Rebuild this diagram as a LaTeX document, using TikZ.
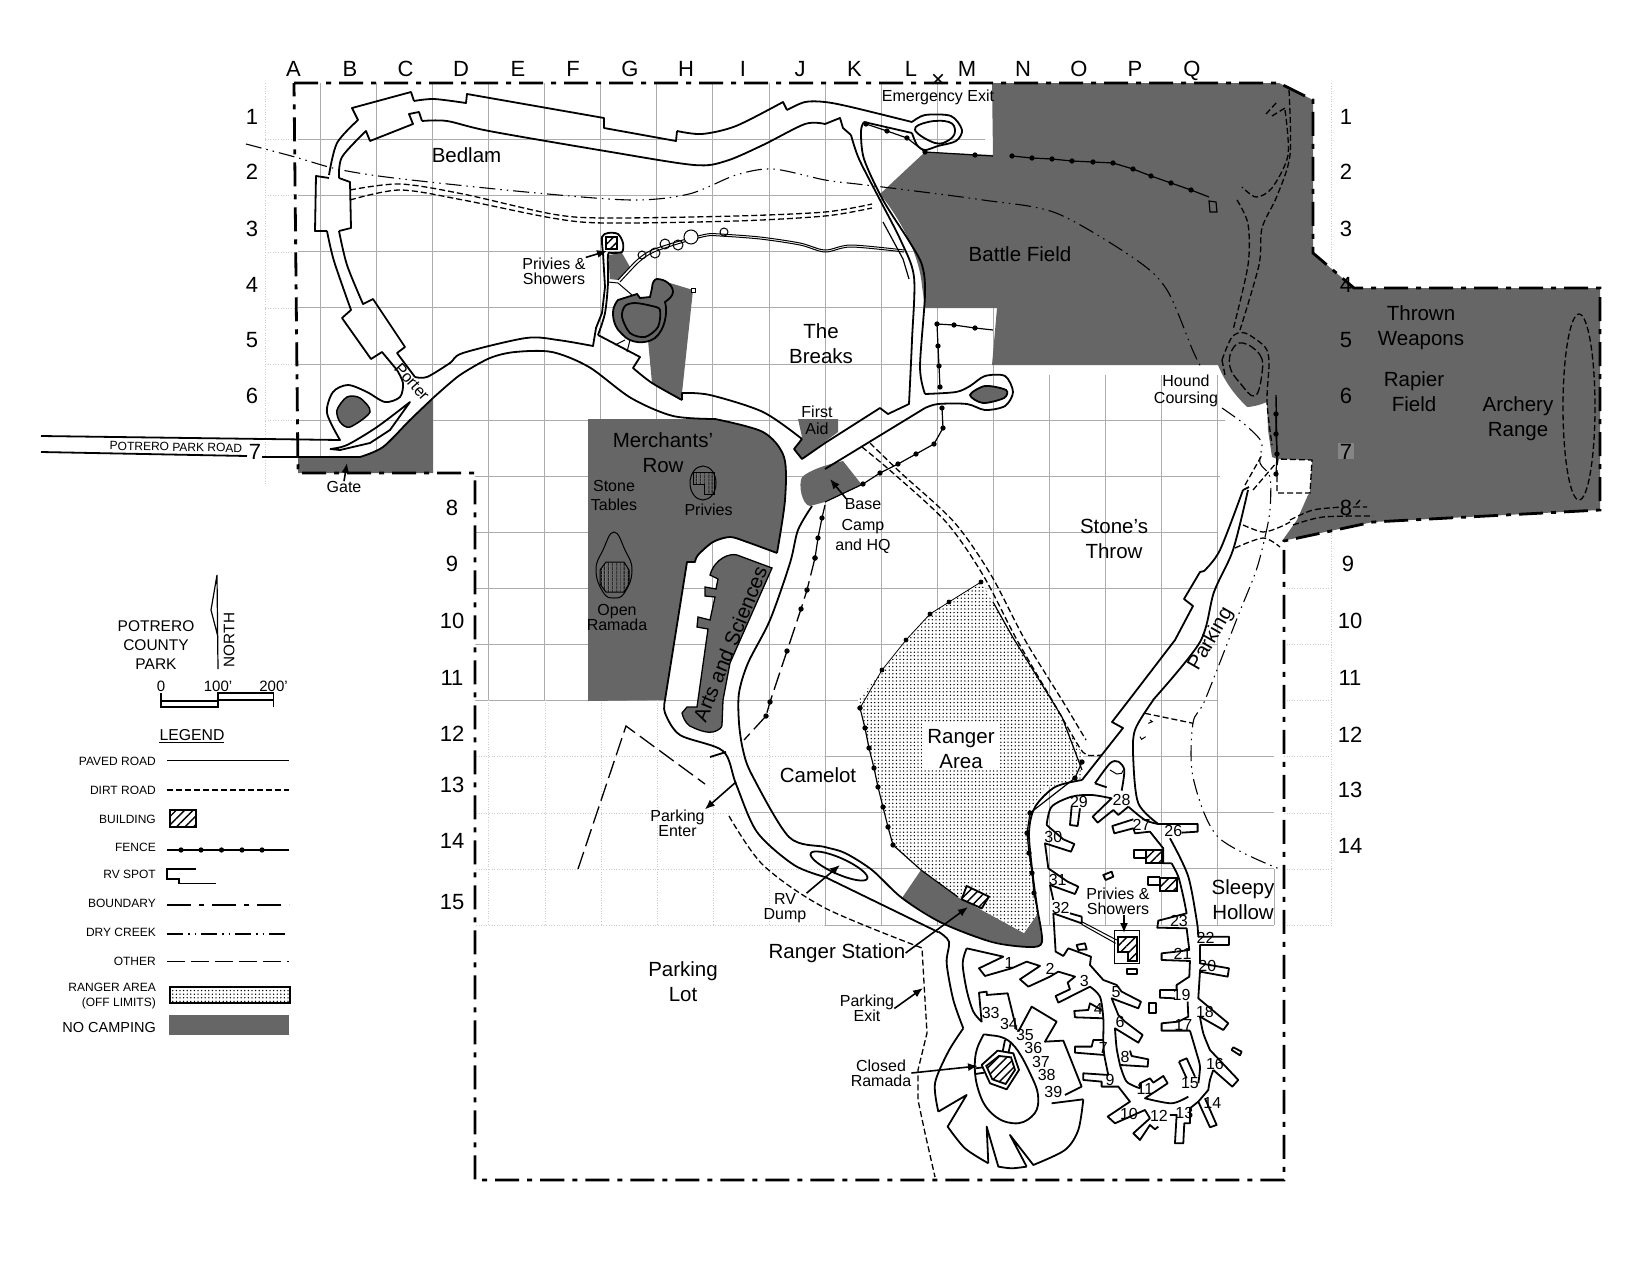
\documentclass[tikz,border=0pt]{standalone}
\usepackage{fontspec}
\setmainfont{Liberation Sans}
\usetikzlibrary{patterns.meta,arrows.meta}
\definecolor{nocamp}{gray}{0.4}
\tikzset{
  paved/.style={line width=1.8pt,line join=round},
  thinroad/.style={line width=1pt},
  dirt/.style={line width=1.3pt,dash pattern=on 6pt off 3pt},
  creek/.style={line width=1.1pt,dash pattern=on 16pt off 5pt on 1.5pt off 5pt on 1.5pt off 5pt},
  other/.style={line width=1.3pt,dash pattern=on 18pt off 6pt},
  border/.style={line width=2.8pt,dash pattern=on 24pt off 8pt on 5pt off 8pt},
  fence/.style={line width=1.2pt,mark=*,mark size=2pt},
  gridline/.style={gray!65,line width=.9pt},
  gridfaint/.style={gray!40,line width=.6pt,dotted},
  nogo/.style={fill=nocamp},
  bldg/.style={draw,line width=1.8pt,preaction={fill=white},pattern={Lines[angle=45,distance=6pt,line width=1.4pt]}},
  bldgv/.style={draw,line width=1pt,pattern={Lines[angle=90,distance=4pt,line width=1pt]}},
  stipple/.style={pattern={Dots[distance=3.6pt,radius=.75pt]}},
  lbl/.style={font=\fontsize{20.5}{25}\selectfont,inner sep=0pt,align=center},
  sml/.style={font=\fontsize{16}{15}\selectfont,inner sep=0pt,align=center},
  tiny/.style={font=\fontsize{12}{14.5}\selectfont,inner sep=0pt,align=right,anchor=east},
  hdr/.style={font=\fontsize{22}{24}\selectfont,inner sep=0pt,text height=16pt,text depth=0pt},
  nr/.style={font=\fontsize{16}{16}\selectfont,inner sep=0pt},
  arr/.style={line width=1.6pt,-{Latex[length=10pt,width=8pt]}},
}
\begin{document}
\begin{tikzpicture}[x=1pt,y=-1pt]
  \useasboundingbox (0,0) rectangle (1650,1275);
  % grid
  \draw[gridline] (320.6,83) -- (320.6,473);
  \draw[gridline] (376.6,83) -- (376.6,473);
  \draw[gridline] (432.7,83) -- (432.7,473);
  \draw[gridline] (488.7,83) -- (488.7,700);
  \draw[gridline] (544.8,83) -- (544.8,700);
  \draw[gridline] (600.8,83) -- (600.8,700);
  \draw[gridline] (656.9,83) -- (656.9,700);
  \draw[gridline] (712.9,83) -- (712.9,700);
  \draw[gridline] (769,83) -- (769,700);
  \draw[gridline] (825,83) -- (825,925);
  \draw[gridline] (881,83) -- (881,925);
  \draw[gridline] (937,83) -- (937,925);
  \draw[gridline] (993,83) -- (993,925);
  \draw[gridline] (1049,375) -- (1049,925);
  \draw[gridline] (1105,375) -- (1105,925);
  \draw[gridline] (1161,375) -- (1161,925);
  \draw[gridline] (1217,375) -- (1217,925);
  \draw[gridline] (1274,869) -- (1274,925);
  \draw[gridline] (298,139.6) -- (985,139.6);
  \draw[gridline] (298,195.7) -- (1000,195.7);
  \draw[gridline] (298,251.8) -- (1000,251.8);
  \draw[gridline] (298,307.9) -- (1000,307.9);
  \draw[gridline] (298,364) -- (1000,364);
  \draw[gridline] (298,420.1) -- (1225,420.1);
  \draw[gridline] (475,476.2) -- (1220,476.2);
  \draw[gridline] (475,532.3) -- (1217,532.3);
  \draw[gridline] (475,588.4) -- (1217,588.4);
  \draw[gridline] (475,644.5) -- (1217,644.5);
  \draw[gridline] (475,700.6) -- (1217,700.6);
  \draw[gridline] (825,756.7) -- (1274,756.7);
  \draw[gridline] (750,812.8) -- (1274,812.8);
  \draw[gridline] (825,868.9) -- (1274,868.9);
  \draw[gridline] (825,925) -- (1274,925);
  %
  \draw[gridfaint] (488.7,700) -- (488.7,925);
  \draw[gridfaint] (544.8,700) -- (544.8,925);
  \draw[gridfaint] (600.8,700) -- (600.8,925);
  \draw[gridfaint] (656.9,700) -- (656.9,925);
  \draw[gridfaint] (712.9,700) -- (712.9,925);
  \draw[gridfaint] (769,700) -- (769,925);
  \draw[gridfaint] (265,83) -- (265,485);
  \draw[gridfaint] (1331,83) -- (1331,925);
  \draw[gridfaint] (476,756.7) -- (825,756.7);
  \draw[gridfaint] (476,812.8) -- (750,812.8);
  \draw[gridfaint] (476,868.9) -- (825,868.9);
  \draw[gridfaint] (476,925) -- (825,925);
  \draw[gridfaint] (265,139.6) -- (294,139.6);
  \draw[gridfaint] (265,195.7) -- (294,195.7);
  \draw[gridfaint] (265,251.8) -- (294,251.8);
  \draw[gridfaint] (265,307.9) -- (294,307.9);
  \draw[gridfaint] (265,364) -- (294,364);
  \draw[gridfaint] (265,420.1) -- (294,420.1);
  \draw[gridfaint] (1284,756.7) -- (1331,756.7);
  \draw[gridfaint] (1284,812.8) -- (1331,812.8);
  \draw[gridfaint] (1284,868.9) -- (1331,868.9);
  \draw[gridfaint] (1284,925) -- (1331,925);
  \draw[gridfaint] (1284,588.4) -- (1331,588.4);
  \draw[gridfaint] (1284,644.5) -- (1331,644.5);
  \draw[gridfaint] (1284,700.6) -- (1331,700.6);
  % no camping areas
  \fill[nogo] plot[smooth] coordinates {(360,457) (383,447) (410,420) (433,398)} -- (433,473) -- (298,473) -- (298,457) -- cycle;
  \fill[nogo] plot[smooth] coordinates {(715,419) (763,432) (784,457) (785,500) (777,553)} -- (747,542) -- (730,537) -- (713,542) -- (698,555) -- (695,562) -- (687,562) -- (665,700) -- (588,701) -- (588,419) -- cycle;
  \fill[nogo] (798,419) -- (838,419) -- (838,432) -- (802,459) -- (794,449) -- (802,437) -- cycle;
  \fill[nogo] (843,461) -- (862,485) -- (825,502) -- (810,506) .. controls (802,505) and (798,485) .. (802,477) .. controls (810,470) and (825,465) .. (843,461) -- cycle;
  \fill[nogo] (992,83) -- (1279,83) -- (1313,100) -- (1313,253) -- (1354,288) -- (1600,288) -- (1600,510) -- (1373,522) -- (1282,541) -- (1297,520) -- (1308,495) -- (1310,493) -- (1312,460) -- (1278,459) -- (1272,457) -- (1268,430) -- (1267,402) .. controls (1260,405) and (1252,407) .. (1247,407) .. controls (1238,398) and (1226,385) .. (1218,365) -- (992,365) -- (997,308) -- (925,308) -- (922,286) .. controls (920,260) and (905,225) .. (880,194) -- (925,152) -- (993,155) -- cycle;
  \fill[nogo] (608,255) -- (622,253) -- (630,267) -- (618,280) -- (610,279) -- cycle;
  \fill[nogo] (670,283) -- (693,290) -- (682,393) -- (680,400) -- (652,383) -- (648,340) -- cycle;
  \fill[nogo] (921,870) -- (902,898) -- (942,923) .. controls (975,938) and (1005,947) .. (1038,947) -- (1042,942) -- (1038,913) -- (1024,933) -- (958,897) -- cycle;
  % ranger area
  \fill[white] (858,700) -- (893,845) -- (921,870) -- (958,897) -- (1024,933) -- (1038,913) -- (1028,833) -- (1032,807) -- (1045,788) -- (1082,778) -- (1083,755) -- (1062,717) -- (981,582) -- (930,614) -- cycle;
  \path[stipple] (858,700) -- (893,845) -- (921,870) -- (958,897) -- (1024,933) -- (1038,913) -- (1028,833) -- (1032,807) -- (1045,788) -- (1082,778) -- (1083,755) -- (1062,717) -- (981,582) -- (930,614) -- cycle;
  \fill[white] (922,722) rectangle (998,768);
  % boundary
  \draw[border] (294,83) -- (1279,83) -- (1313,100) -- (1313,253) -- (1354,288) -- (1600,288) -- (1600,510) -- (1373,522) -- (1284,541) -- (1284,1180) -- (475,1180) -- (475,473) -- (298,473) -- cycle;
  % ranger area fences
  \draw[fence] plot coordinates {(860,708) (865,728) (869,748) (874,768) (878,787) (883,807) (888,827) (893,845)};
  \draw[line width=1.2pt] (893,845) -- (921,870) -- (958,897);
  \draw[fence,line width=.8pt] plot coordinates {(981,582) (949,602) (930,614) (906,640) (882,670) (860,708)};
  \draw[line width=1.2pt] (993,602) -- (1012,636) -- (1062,717) -- (1082,770);
  \draw[fence] plot coordinates {(1082,762) (1075,778) (1030,813) (1027,833) (1029,853) (1032,873) (1034,893)};
  \draw[line width=1.2pt] (1034,893) -- (1038,913);
  % roads of the north loop
  \draw[paved] plot[smooth] coordinates {(329,175) (337,143) (358,120)} -- (352,108) -- (411,92) -- (414,101);
  \draw[paved] plot[smooth] coordinates {(414,101) (434,99) (466,103)} -- (467,94) -- (604,118) -- (604,128) -- (676,141) -- (677,131);
  \draw[paved] plot[smooth] coordinates {(677,131) (702,134) (736,126) (783,102)} -- (787,110);
  \draw[paved] plot[smooth] coordinates {(787,110) (805,102) (825,102) (851,107) (912,122)};
  \draw[paved] plot[smooth] coordinates {(912,122) (925,115) (951,116) (962,130) (956,141) (938,146) (925,150) (917,145) (912,133)};
  \draw[paved] plot[smooth cycle,tension=.7] coordinates {(915,130) (928,122) (949,122) (955,131) (949,140) (935,143)};
  \draw[paved] (912,133) -- (864,122);
  \draw[paved] plot[smooth] coordinates {(864,122) (861,131) (864,159) (883,200) (909,241) (922,265) (925,294) (920,367) (925,394)};
  \draw[paved] plot[smooth] coordinates {(925,394) (956,392) (970,386) (985,376) (1005,376) (1013,392) (1005,406) (985,410) (967,404) (938,404) (925,408)};
  \fill[nogo,draw=black,line width=1.8pt] plot[smooth cycle] coordinates {(970,395) (985,386) (1006,390) (1004,398) (983,403)};
  \draw[paved] (925,408) -- (825,469);
  \draw[paved] (825,124) -- (840,118) -- (843,128) -- (851,135);
  \draw[paved] plot[smooth] coordinates {(851,135) (859,159) (880,200) (901,241) (914,277) (912,340) (909,404)} -- (888,414) -- (880,408) -- (825,443) -- (802,459) -- (794,449) -- (802,439);
  \draw[paved] plot[smooth] coordinates {(802,439) (763,412) (710,395) (682,393)} -- (682,400);
  \draw[paved] plot[smooth] coordinates {(682,400) (652,383) (633,368)} -- (640,357) -- (598,335);
  \draw[paved] plot[smooth] coordinates {(339,178) (342,157) (366,131)} -- (370,141) -- (413,124) -- (409,114) -- (419,112) -- (422,121);
  \draw[paved] plot[smooth] coordinates {(422,121) (447,121) (489,131) (605,151) (694,165) (726,161) (763,145) (805,124) (825,124)};
  \draw[paved] (329,178) -- (316,176) -- (315,231) -- (327,231);
  \draw[paved] (339,178) -- (350,182) -- (351,228) -- (339,231);
  \draw[paved] plot[smooth] coordinates {(327,231) (334,261) (351,310)} -- (342,318) -- (371,359) -- (382,352) -- (397,370);
  \draw[paved] plot[smooth] coordinates {(397,370) (403,383) (400,397) (385,402) (367,392) (348,385) (333,392) (327,413) (340,440)} -- (41,436);
  \draw[paved] plot[smooth] coordinates {(339,231) (347,265) (363,304)} -- (373,299) -- (405,347) -- (397,353) -- (415,377);
  \draw[paved] plot[smooth] coordinates {(415,377) (427,377) (450,363) (463,353) (526,338) (558,340) (593,346)} -- (596,328) -- (602,313) -- (605,287) -- (603,253);
  \draw[paved] (41,452) -- (247,456);
  \draw[paved] (262,457) -- (360,457);
  \draw[paved] plot[smooth] coordinates {(360,457) (383,447) (410,420) (433,398)};
  \draw[paved] plot[smooth] coordinates {(433,398) (450,383) (463,373) (490,358) (515,352) (552,352) (589,367) (631,398) (673,416) (715,419)};
  \draw[paved] plot[smooth] coordinates {(715,419) (763,432) (784,457) (785,500) (777,553)};
  \draw[paved] plot[smooth] coordinates {(777,553) (747,542) (730,537) (713,542) (698,555) (695,562)} -- (687,562) -- (665,700);
  \draw[paved] plot[smooth] coordinates {(665,700) (665,713) (680,735) (723,751) (736,784) (757,832) (794,865) (825,877)} -- (938,932);
  \draw[paved] plot[smooth] coordinates {(812,506) (798,530) (790,563) (770,620) (748,663) (739,693) (739,723) (743,750) (752,775) (789,837) (825,847) (845,853) (872,870) (902,898) (942,923) (992,942) (1030,947) (1042,942) (1038,913)};
  \draw[paved] plot[smooth] coordinates {(330,449) (347,445) (377,427) (410,402)} -- (390,430) -- (370,443) -- (340,450) -- (330,449);
  \draw[paved] (710,757) -- (726,752);
  % gate loop and the G pond
  \fill[nogo,draw=black,line width=1.5pt] plot[smooth cycle] coordinates {(337,410) (347,397) (360,398) (370,412) (350,427) (340,422)};
  \fill[nogo,draw=black,line width=1.8pt] (613,313) .. controls (613,305) and (618,300) .. (618,300) -- (637,294) -- (640,298) -- (650,297) -- (652,288) .. controls (652,282) and (655,279) .. (657,279) .. controls (665,279) and (673,285) .. (673,292) .. controls (673,296) and (668,300) .. (665,302) .. controls (668,312) and (665,330) .. (655,338) .. controls (645,345) and (630,343) .. (623,335) .. controls (617,330) and (613,323) .. (613,313) -- cycle;
  \draw[line width=1.8pt] plot[smooth cycle] coordinates {(622,317) (625,306) (635,303) (652,306) (660,310) (658,327) (645,337) (630,333)};
  \draw[paved] plot[smooth] coordinates {(603,253) (602,237) (608,233) (618,234) (623,243) (622,252) (612,253) (608,255) (608,283) (605,313) (598,335)};
  \draw[thinroad] (608,282) -- (618,283) -- (632,295);
  \draw[thinroad] (625,340) -- (615,345);
  \draw[thinroad] (630,340) -- (627,352);
  \draw[thinroad] plot[smooth] coordinates {(618,280) (637,260) (652,250) (683,240) (707,234) (720,234) (760,237) (800,243) (825,250) (851,245) (904,250)};
  \draw[thinroad] plot[smooth] coordinates {(620,282) (639,262) (654,252) (684,242) (707,236) (720,236) (760,239) (800,245) (825,252) (851,247) (904,252)};
  \draw[thinroad,fill=white] (691,237) circle (7);
  \draw[thinroad] (642,255) circle (4);
  \draw[thinroad] (655,253) circle (5);
  \draw[thinroad] (665,244) circle (5);
  \draw[thinroad] (678,245) circle (5);
  \draw[thinroad] (724,232) circle (4);
  \draw[thinroad,fill=white] (691,288) rectangle (695,292);
  \draw[bldg] (606,237) rectangle (617,249);
  % merchants row
  \draw[line width=1pt] (703,483) ellipse (13 and 17);
  \path[bldgv] (693,472) -- (714,472) -- (714,494) -- (704,494) -- (704,484) -- (693,484) -- cycle;
  \draw[line width=1pt] plot[smooth cycle,tension=.8] coordinates {(614,532) (625,550) (632,570) (625,592) (614,598) (603,592) (596,570) (603,550)};
  \path[bldgv] (606,562) -- (624,562) -- (629,570) -- (629,584) -- (624,592) -- (606,592) -- (600,584) -- (600,570) -- cycle;
  % arts and sciences
  \fill[nogo,draw=black,line width=1.3pt] (772,568) -- (737,555) .. controls (730,553) and (715,558) .. (710,575) -- (718,579) -- (716,589) -- (705,587) -- (705,596) -- (715,597) -- (710,620) -- (698,617) -- (697,627) -- (708,629) -- (697,707) -- (687,707) -- (682,713) .. controls (684,722) and (690,727) .. (692,727) .. controls (700,731) and (708,733) .. (713,732) .. controls (720,730) and (722,727) .. (722,725) -- (723,700) -- (730,663) -- cycle;
  % dirt roads
  \draw[dirt] plot[smooth] coordinates {(350,190) (400,184) (463,194) (552,214) (605,218) (736,216) (825,212) (872,204)};
  \draw[dirt] plot[smooth] coordinates {(350,200) (400,190) (463,200) (552,218) (605,223) (736,221) (825,216) (872,208)};
  \draw[dirt] plot[smooth] coordinates {(862,447) (893,473) (946,522) (983,575) (1017,640) (1052,700) (1078,745) (1087,755) (1102,755)};
  \draw[dirt] plot[smooth] coordinates {(870,443) (901,473) (954,522) (991,575) (1025,640) (1062,700) (1086,740)};
  \draw[dirt] plot[smooth] coordinates {(729,816) (763,865) (825,908) (922,948)} -- (924,983) -- (927,1033) -- (918,1070) -- (918,1100) -- (925,1133) -- (935,1177);
  % dirt roads on the east side
  \draw[dirt] plot[smooth] coordinates {(1289,90) (1290,155) (1277,196) (1262,228) (1259,265) (1240,330)};
  \draw[dirt] plot[smooth] coordinates {(1285,110) (1288,155) (1272,188) (1256,197) (1242,187)};
  \draw[dirt] plot[smooth] coordinates {(1237,200) (1248,224) (1248,265) (1233,330)};
  \draw[dirt] (1266,114) -- (1277,102);
  \draw[dirt] (1272,116) -- (1285,108);
  \draw[dirt] plot[smooth] coordinates {(1222,360) (1232,337) (1245,333) (1265,347) (1269,363) (1267,402) (1272,445)};
  \draw[dirt] (1222,360) -- (1225,375);
  \draw[dirt,dash pattern=on 8pt off 3pt] plot[smooth cycle,tension=.7] coordinates {(1243,343) (1260,355) (1262,373) (1255,396) (1240,383) (1230,367) (1232,350)};
  \draw[dirt] (1277,465) -- (1278,459) -- (1312,460) -- (1310,493) -- (1277,493) -- (1277,470);
  \draw[dirt] plot[smooth] coordinates {(1290,520) (1313,510) (1343,507)};
  \draw[dirt] plot[smooth] coordinates {(1293,525) (1323,517) (1373,516)};
  \draw[dirt] plot[smooth] coordinates {(1243,525) (1263,532) (1280,527) (1290,522)};
  \draw[dirt] plot[smooth] coordinates {(1235,548) (1263,538) (1280,547)};
  \draw[dirt] (1245,485) -- (1262,455);
  \draw[dirt] (1253,490) -- (1277,462);
  \draw[dirt] (1360,500) -- (1354,507) -- (1367,507);
  \draw[dirt] (1579,407) ellipse (16 and 93);
  % other lines and creek
  \draw[other] (578,869) -- (626,726) -- (705,784);
  \draw[creek] plot[smooth] coordinates {(246,144) (295,157) (337,169) (394,178) (526,192) (631,200) (689,194) (736,175) (773,169) (825,180) (857,184) (899,189) (983,200) (1056,213) (1135,259) (1167,290) (1193,351) (1201,367)};
  \draw[creek] plot[smooth] coordinates {(1222,408) (1243,423) (1258,437) (1262,445) (1260,463) (1270,477) (1270,510) (1265,537) (1256,571) (1238,616) (1205,700) (1193,723) (1193,777) (1218,837) (1282,870)};
  % east fence
  \draw[fence] plot coordinates {(866,124) (887,131) (907,138) (925,152) (975,155)};
  \draw[line width=1.2pt] (975,155) -- (993,156);
  \draw[fence] plot coordinates {(1012,156) (1032,158) (1052,159) (1072,161) (1093,162) (1113,163) (1133,169) (1151,176) (1171,183) (1191,190)};
  \draw[line width=1.2pt] (1191,190) -- (1209,197);
  \draw[line width=1.2pt] (1209,201) -- (1216,202) -- (1217,212) -- (1210,212) -- cycle;
  \draw[line width=1.2pt] (883,222) -- (903,259) -- (909,279);
  \draw[fence] plot coordinates {(975,328) (954,325) (937,324) (938,346) (939,366) (940,387)};
  \draw[line width=1.2pt] (975,328) -- (993,330);
  \draw[fence] plot coordinates {(942,408) (943,428) (934,444) (916,454) (898,464) (880,473) (863,484)};
  \draw[line width=1.2pt] (863,484) -- (825,502);
  \draw[line width=1.4pt] (1276,395) -- (1277,459);
  \draw[fence] plot coordinates {(1276,414) (1276,434) (1277,454) (1276,474)};
  \draw[line width=1.2pt] (825,505) -- (822,518);
  \draw[fence] plot coordinates {(822,518) (818,538) (815,558)};
  \draw[other,mark=*,mark size=2pt] plot coordinates {(815,558) (807,590) (801,609) (787,651) (770,702) (766,716)};
  \draw[other] (766,716) -- (744,740);
  % parking road
  \draw[paved] plot[smooth] coordinates {(1243,490) (1220,550) (1204,571)} -- (1200,572) -- (1184,599) -- (1193,606) -- (1175,640) -- (1129,700) -- (1112,722) -- (1123,728) -- (1082,780);
  \draw[paved] (1243,490) -- (1249,487);
  \draw[paved] plot[smooth] coordinates {(1248,490) (1233,550) (1214,592) (1200,642) (1153,700)};
  \draw[paved] plot[smooth] coordinates {(1082,780) (1055,787) (1035,807) (1029,833) (1033,877) (1038,913)};
  % campground
  \begin{scope}[shift={(825,700)},x=.3333pt,y=-.3333pt]
    \draw[paved] plot[smooth] coordinates {(985,0) (930,90) (925,180) (940,310) (1000,372)} -- (1118,372) -- (1118,395) -- (1070,398);
    \draw[paved] plot[smooth] coordinates {(1035,415) (1090,530) (1118,680)} -- (1120,710) -- (1212,710) -- (1212,735) -- (1125,735) -- (1125,790) -- (1212,805) -- (1208,830) -- (1125,815) -- (1120,895) -- (1210,970) -- (1195,990) -- (1125,950);
    \draw[paved] plot[smooth] coordinates {(1125,950) (1135,1000) (1155,1050)} -- (1240,1140) -- (1222,1160) -- (1165,1110);
    \draw[paved] plot[smooth] coordinates {(1165,1110) (1155,1140) (1150,1170)} -- (1120,1205) -- (1155,1282) -- (1175,1275) -- (1140,1195);
    \draw[paved] (1120,1205) -- (1095,1225) -- (1095,1270) -- (1078,1270) -- (1075,1330) -- (1050,1330) -- (1055,1245) -- (1035,1245);
    \draw[paved] (1000,1280) -- (990,1288) -- (975,1275) -- (945,1320) -- (925,1300) -- (975,1255) -- (960,1230) -- (870,1270) -- (848,1250) -- (915,1205) -- (880,1160) -- (830,1160) -- (830,1145) -- (775,1140) -- (775,1120) -- (850,1125);
    \draw[paved] plot[smooth] coordinates {(850,1125) (838,1065) (835,1020) (835,955) (825,890) (795,860)} -- (700,908) -- (692,888) -- (735,868) -- (728,848) -- (750,830) -- (700,815) -- (675,830) -- (610,860) -- (585,838) -- (645,798) -- (605,785) -- (560,805) -- (480,828) -- (462,805) -- (535,770) -- (425,745);
    \draw[paved] (835,1020) -- (805,1020) -- (800,1040) -- (750,1040) -- (750,1058) -- (838,1065);
    \draw[paved] (835,955) -- (750,952) -- (748,933) -- (790,930) -- (795,910) -- (830,930);
    \draw[paved] plot[smooth] coordinates {(425,745) (413,790) (425,870) (445,935) (470,965)} -- (462,878) -- (485,875) -- (485,885) -- (548,880) -- (575,990);
    \draw[paved] (580,995) -- (620,920) -- (695,965) -- (660,1025) -- (715,1022) -- (770,1160) -- (720,1185);
    \draw[paved] (680,1210) -- (775,1198);
    \draw[paved] plot[smooth] coordinates {(775,1198) (760,1290) (720,1350) (625,1395)} -- (555,1305) -- (605,1400);
    \draw[paved] plot[smooth] coordinates {(605,1400) (560,1405) (520,1400)} -- (485,1280) -- (490,1390);
    \draw[paved] plot[smooth] coordinates {(490,1390) (420,1345) (368,1280)} -- (425,1185) -- (340,1235);
    \draw[paved] plot[smooth] coordinates {(340,1235) (330,1150) (370,1055) (415,985)};
    \draw[paved] plot[smooth] coordinates {(415,985) (385,900) (365,790) (372,725) (340,695)};
    % ramada island
    \draw[paved] plot[smooth cycle,tension=.7] coordinates {(490,1005) (560,1030) (620,1130) (640,1200) (620,1250) (565,1270) (500,1240) (460,1170) (450,1080) (470,1015)};
    \draw[paved] (518,1052) -- (565,1060) -- (582,1110) -- (545,1168) -- (495,1150) -- (470,1095) -- cycle;
    \draw[bldg] (522,1068) -- (558,1072) -- (570,1110) -- (542,1152) -- (502,1138) -- (484,1098) -- cycle;
    \draw[paved] (540,1020) -- (533,1055);
    \draw[paved] (558,1025) -- (550,1060);
    \draw[paved] (452,1105) -- (475,1102);
    \draw[paved] (452,1122) -- (478,1118);
    % inner loop
    \draw[paved] plot[smooth] coordinates {(665,375) (680,320) (740,290) (800,285) (860,295)} -- (803,350) -- (818,368) -- (865,330) -- (880,345) -- (910,320);
    \draw[paved] (765,325) -- (758,378) -- (735,375) -- (740,320);
    \draw[paved] plot[smooth] coordinates {(910,320) (960,360) (1000,372)};
    \draw[paved] (925,358) -- (862,378) -- (868,400) -- (925,385) -- (930,400) -- (975,395) -- (1015,445) -- (1015,490) -- (1040,490);
    \draw[paved] plot[smooth] coordinates {(1040,490) (1060,530) (1075,590) (1085,640)} -- (1000,662) -- (997,683) -- (1085,685) -- (1093,750) -- (1055,755);
    \draw[paved] (1055,755) -- (1010,760) -- (1010,780) -- (1095,783) -- (1093,830) -- (1055,855) -- (1055,870) -- (1005,870) -- (1005,893) -- (1050,895);
    \draw[paved] (1088,905) -- (1090,950) -- (1060,965) -- (1010,970) -- (1010,992) -- (1095,992);
    \draw[paved] plot[smooth] coordinates {(1095,992) (1115,1060) (1125,1100) (1120,1150)};
    \draw[paved] (1062,1085) -- (1085,1075) -- (1110,1130);
    \draw[paved] (1062,1085) -- (1085,1135);
    \draw[paved] plot[smooth] coordinates {(1090,1190) (1040,1210) (960,1195)} -- (1028,1150) -- (1015,1128) -- (985,1148) -- (975,1135) -- (945,1150) -- (945,1165);
    \draw[paved] plot[smooth] coordinates {(945,1165) (905,1145) (885,1095)} -- (968,1100) -- (970,1078) -- (920,1068) -- (915,1052);
    \draw[paved] plot[smooth] coordinates {(885,1095) (875,1045) (870,985)} -- (940,1028) -- (953,1005) -- (900,965) -- (880,945) -- (860,895) -- (940,925) -- (948,905) -- (890,875) -- (875,855) -- (835,840) -- (795,795) -- (798,770) -- (730,745) -- (715,768) -- (692,755) -- (685,640);
    \draw[paved] (685,640) -- (770,670) -- (770,650) -- (735,640);
    \draw[thinroad] (770,665) -- (875,720);
    \draw[thinroad] (770,673) -- (872,730);
    \draw[paved] (675,555) -- (750,582) -- (760,560) -- (728,545) -- (670,505) -- (660,430) -- (738,455) -- (748,432) -- (715,418);
    \draw[paved] (715,418) -- (665,375);
    \draw[paved] (675,555) -- (685,600);
    % north end of the camp
    \draw[paved] plot[smooth] coordinates {(810,250) (855,190) (880,185) (898,210) (890,272)};
    \draw[paved] (810,250) -- (845,262);
    \draw[thinroad] (855,210) -- (875,222) -- (890,220) -- (895,210);
    % small spots
    \draw[paved] (755,735) -- (780,730) -- (785,748) -- (760,750) -- cycle;
    \draw[paved] (907,808) rectangle (937,823);
    \draw[paved] (973,910) rectangle (992,938);
    \draw[paved] (835,525) -- (860,515) -- (865,530) -- (842,540) -- cycle;
    \draw[paved] (1220,1050) -- (1225,1042) -- (1250,1055) -- (1245,1066) -- cycle;
    % privies and station
    \draw[bldg] (963,450) rectangle (1012,490);
    \draw[paved] (963,450) -- (928,450) -- (928,475) -- (963,475);
    \draw[bldg] (1005,533) rectangle (1055,572);
    \draw[paved] (1005,532) -- (970,532) -- (970,555) -- (1005,555);
    \draw[thinroad] (870,692) rectangle (945,790);
    \draw[bldg] (880,712) -- (935,712) -- (935,782) -- (910,782) -- (910,755) -- (880,755) -- cycle;
    \draw[bldg] (425,558) -- (492,590) -- (470,625) -- (410,598) -- cycle;
    % dashes and creek bits
    \draw[dirt] (960,40) -- (1105,70);
    \draw[thinroad] (975,60) -- (982,65) -- (970,70);
    \draw[thinroad] (945,110) -- (950,118) -- (962,110);
    % spot numbers
    \node[nr] (n1) at (552,790) {1};
    \node[nr] (n2) at (675,808) {2};
    \node[nr] (n3) at (778,842) {3};
    \node[nr] (n4) at (820,928) {4};
    \node[nr] (n5) at (873,875) {5};
    \node[nr] (n6) at (885,965) {6};
    \node[nr] (n7) at (835,1043) {7};
    \node[nr] (n8) at (900,1072) {8};
    \node[nr] (n9) at (855,1140) {9};
    \node[nr] (n10) at (912,1243) {10};
    \node[nr] (n11) at (960,1168) {11};
    \node[nr] (n12) at (1002,1248) {12};
    \node[nr] (n13) at (1078,1240) {13};
    \node[nr] (n14) at (1162,1210) {14};
    \node[nr] (n15) at (1095,1150) {15};
    \node[nr] (n16) at (1170,1093) {16};
    \node[nr] (n17) at (1075,975) {17};
    \node[nr] (n18) at (1140,935) {18};
    \node[nr] (n19) at (1070,885) {19};
    \node[nr] (n20) at (1147,797) {20};
    \node[nr] (n21) at (1073,763) {21};
    \node[nr] (n22) at (1142,713) {22};
    \node[nr] (n23) at (1062,663) {23};
    \node[nr] (n26) at (1045,392) {26};
    \node[nr] (n27) at (950,375) {27};
    \node[nr] (n28) at (890,300) {28};
    \node[nr] (n29) at (762,305) {29};
    \node[nr] (n30) at (685,410) {30};
    \node[nr] (n31) at (698,540) {31};
    \node[nr] (n32) at (707,625) {32};
    \node[nr] (n33) at (497,940) {33};
    \node[nr] (n34) at (552,973) {34};
    \node[nr] (n35) at (600,1005) {35};
    \node[nr] (n36) at (625,1045) {36};
    \node[nr] (n37) at (648,1085) {37};
    \node[nr] (n38) at (665,1125) {38};
    \node[nr] (n39) at (685,1175) {39};
  \end{scope}
  \draw[paved,rotate around={-24:(839,866)}] (839,866) ellipse (31 and 8);
  % column letters
  \node[hdr] (colA) at (293.5,68) {A};
  \node[hdr] (colB) at (350,68) {B};
  \node[hdr] (colC) at (405.6,68) {C};
  \node[hdr] (colD) at (461,68) {D};
  \node[hdr] (colE) at (518,68) {E};
  \node[hdr] (colF) at (573,68) {F};
  \node[hdr] (colG) at (630,68) {G};
  \node[hdr] (colH) at (686,68) {H};
  \node[hdr] (colI) at (743,68) {I};
  \node[hdr] (colJ) at (800,68) {J};
  \node[hdr] (colK) at (854.5,68) {K};
  \node[hdr] (colL) at (911,68) {L};
  \node[hdr] (colM) at (967,68) {M};
  \node[hdr] (colN) at (1023,68) {N};
  \node[hdr] (colO) at (1079,68) {O};
  \node[hdr] (colP) at (1135,68) {P};
  \node[hdr] (colQ) at (1192,68) {Q};
  % row numbers, west
  \node[hdr] (west1) at (252,116) {1};
  \node[hdr] (west2) at (252,171) {2};
  \node[hdr] (west3) at (252,228) {3};
  \node[hdr] (west4) at (252,284) {4};
  \node[hdr] (west5) at (252,339) {5};
  \node[hdr] (west6) at (252,395) {6};
  \node[hdr] (west7) at (255,451) {7};
  \node[hdr] (west8) at (452,507) {8};
  \node[hdr] (west9) at (452,563) {9};
  \node[hdr] (west10) at (452,620) {10};
  \node[hdr] (west11) at (452,677) {11};
  \node[hdr] (west12) at (452,733) {12};
  \node[hdr] (west13) at (452,784) {13};
  \node[hdr] (west14) at (452,840) {14};
  \node[hdr] (west15) at (452,901) {15};
  % row numbers, east
  \node[hdr] (east1) at (1346,116) {1};
  \node[hdr] (east2) at (1346,171) {2};
  \node[hdr] (east3) at (1346,228) {3};
  \node[hdr] (east4) at (1346,284) {4};
  \node[hdr] (east5) at (1346,339) {5};
  \node[hdr] (east6) at (1346,395) {6};
  \node[hdr,fill=black!48,inner xsep=2pt] (east7) at (1346,451) {7};
  \node[hdr] (east8) at (1346,507) {8};
  \node[hdr] (east9) at (1348,563) {9};
  \node[hdr] (east10) at (1350,620) {10};
  \node[hdr] (east11) at (1350,677) {11};
  \node[hdr] (east12) at (1350,734) {12};
  \node[hdr] (east13) at (1350,789) {13};
  \node[hdr] (east14) at (1350,845) {14};
  % area names
  \node[lbl] (bedlam) at (466.5,155) {Bedlam};
  \node[lbl] (battle) at (1020,254) {Battle Field};
  \node[lbl] (breaks) at (821,344) {The\\Breaks};
  \node[lbl] (merch) at (663,453) {Merchants'\\Row};
  \node[lbl] (stone) at (1114,539) {Stone’s\\Throw};
  \node[lbl] (thrown) at (1421,327.5) {Thrown\\Weapons};
  \node[lbl] (rapier) at (1414,392) {Rapier\\Field};
  \node[lbl] (archery) at (1518,419) {Archery\\Range};
  \node[lbl] (ranger) at (961,749) {Ranger\\Area};
  \node[lbl] (camelot) at (818,775) {Camelot};
  \node[lbl] (lot) at (683,981.5) {Parking\\Lot};
  \node[lbl] (station) at (837,953) {Ranger Station};
  \node[lbl] (sleepy) at (1243,899.5) {Sleepy\\Hollow};
  \node[lbl,rotate=68] (arts) at (730,644) {Arts and Sciences};
  \node[lbl,rotate=60] (parkrd) at (1211,639) {Parking};
  % smaller names
  \node[sml] (gate) at (344,487) {Gate};
  \node[sml,rotate=-48] (porter) at (412,382) {Porter};
  \node[sml] (privG) at (554,271) {Privies \&\\Showers};
  \node[sml] (exit) at (938,97.5) {Emergency Exit};
  \node[sml,font=\fontsize{24}{24}\selectfont] (cross) at (938,81) {×};
  \node[sml] (firstaid) at (817,420) {First\\[2pt]Aid};
  \node[sml] (tables) at (614,495) {Stone\\[4pt]Tables};
  \node[sml] (privM) at (708.5,510) {Privies};
  \node[sml] (ramada) at (617,617) {Open\\Ramada};
  \node[sml] (base) at (863,526) {Base\\[5pt]Camp\\[5pt]and HQ};
  \node[sml] (hound) at (1186,390.5) {Hound\\[2pt]Coursing};
  \node[sml] (enter) at (677.5,823) {Parking\\Enter};
  \node[sml] (dump) at (785,908) {RV\\Dump};
  \node[sml] (pexit) at (867,1008.5) {Parking\\Exit};
  \node[sml] (closed) at (881,1073) {Closed\\Ramada};
  \node[sml] (privC) at (1118,901.5) {Privies \&\\Showers};
  \node[tiny,anchor=center,rotate=-1] (roadname) at (176,447) {POTRERO PARK ROAD};
  % arrows
  \coordinate (gateEnd) at (347,463);
  \coordinate (privGEnd) at (607,251);
  \coordinate (baseEnd) at (830,479);
  \coordinate (enterStart) at (736,782);
  \coordinate (dumpEnd) at (840,865);
  \coordinate (stationEnd) at (968,907);
  \coordinate (pexitEnd) at (923,988);
  \coordinate (closedEnd) at (978,1066);
  \coordinate (privCEnd) at (1124,933);
  \draw[arr] (gate.north) -- (gateEnd);
  \draw[arr] (privG.north east) -- (privGEnd);
  \draw[arr] (base.north west) ++(11,0) -- (baseEnd);
  \draw[arr] (enterStart) -- (enter.north east);
  \draw[arr] (dump.north east) -- (dumpEnd);
  \draw[arr] (station.east) -- (stationEnd);
  \draw[arr] (pexit.east) -- (pexitEnd);
  \draw[arr] (closed.east) -- (closedEnd);
  \draw[arr] (privC.south) ++(6,0) -- (privCEnd);
  % park name and north arrow
  \node[sml,font=\fontsize{15.5}{19}\selectfont] (park) at (156,645) {POTRERO\\COUNTY\\PARK};
  \node[sml,font=\fontsize{15.3}{16}\selectfont,rotate=90] (north) at (229,640) {NORTH};
  \draw[line width=1.2pt] (218,669) -- (217,575) -- (211,610) -- (218,637);
  % scale
  \node[sml,font=\fontsize{15}{16}\selectfont] (s0) at (161,686) {0};
  \node[sml,font=\fontsize{15}{16}\selectfont] (s100) at (218,686) {100'};
  \node[sml,font=\fontsize{15}{16}\selectfont] (s200) at (273.5,686) {200'};
  \draw[line width=1.2pt] (161,693) -- (161,707) -- (218,707) -- (218,693) -- (273.5,693) -- (273.5,707);
  \draw[line width=1.2pt] (161,701) -- (218,701);
  \draw[line width=1.2pt] (218,700) -- (273.5,700);
  % legend
  \node[sml,font=\fontsize{15.8}{16}\selectfont] (legend) at (192,735) {LEGEND};
  \draw[line width=1.2pt] (legend.south west) ++(0,1.5) -- ++(65,0);
  \node[tiny] (tPaved) at (156,761.5) {PAVED ROAD};
  \node[tiny] (tDirt) at (156,790.5) {DIRT ROAD};
  \node[tiny] (tBldg) at (156,819) {BUILDING};
  \node[tiny] (tFence) at (156,847) {FENCE};
  \node[tiny] (tRV) at (156,874.5) {RV SPOT};
  \node[tiny] (tBound) at (156,903.5) {BOUNDARY};
  \node[tiny] (tCreek) at (156,932) {DRY CREEK};
  \node[tiny] (tOther) at (156,961) {OTHER};
  \node[tiny] (tRanger) at (156,996) {RANGER AREA\\(OFF LIMITS)};
  \node[tiny,font=\fontsize{14.5}{15}\selectfont] (tCamp) at (156,1027) {NO CAMPING};
  \draw[paved] (167,760.5) -- (289,760.5);
  \draw[dirt] (167,790) -- (289,790);
  \draw[bldg,line width=1.3pt] (170,810) rectangle (196,827);
  \draw[fence] plot coordinates {(181,850) (201,850) (221.5,850) (242,850) (262,850)};
  \draw[line width=1.2pt] (167,850) -- (289,850);
  \draw[line width=1.4pt] (196,869) -- (167,869) -- (167,879) -- (179,879) -- (179,883.5) -- (216,883.5);
  \draw[border] (167,905) -- (289,905);
  \draw[creek] (167,934) -- (289,934);
  \draw[other] (167,961.5) -- (289,961.5);
  \draw[stipple] (170,987) rectangle (290,1003);
  \draw[line width=1.6pt] (170,987) rectangle (290,1003);
  \fill[nogo] (169,1015) rectangle (289,1035);
\end{tikzpicture}
\end{document}
